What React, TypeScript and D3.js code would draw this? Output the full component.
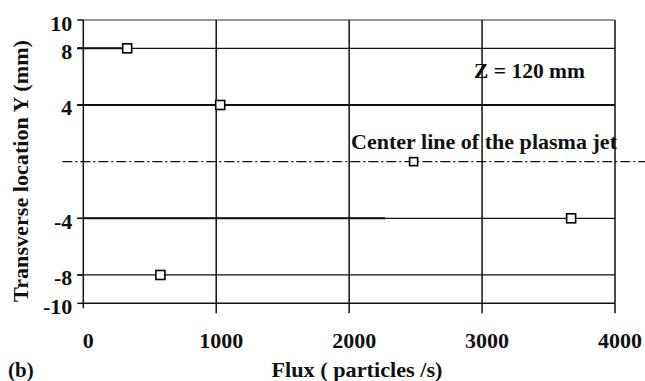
import React from "react";
import * as d3 from "d3";

const fluxValues = [330, 1030, 2485, 3670, 580];
const yValues = [8, 4, 0, -4, -8];
const xTicks = [0, 1000, 2000, 3000, 4000];
const yTicks = [10, 8, 4, -4, -8, -10];
const gridY = [8, 4, -4, -8];
const gridX = [1000, 2000, 3000, 4000];

const W = 645;
const H = 381;
const FONT = "'Liberation Serif', 'Times New Roman', serif";

export default function App() {
  const x = d3.scaleLinear().domain([0, 4000]).range([83.3, 615]);
  const y = d3.scaleLinear().domain([-10, 10]).range([303.3, 20]);
  const x0 = x(0);
  const x1 = x(4000);
  const gridWidth: Record<number, number> = { 8: 1.2, 4: 2.2, "-4": 1.3, "-8": 1.3 } as any;
  return (
    <svg width={W} height={H} style={{ position: "absolute", left: 0, top: 0, background: "#fff" }}>
      <rect x={0} y={0} width={W} height={H} fill="#fff" />
      <line x1={x0} x2={x1} y1={y(10)} y2={y(10)} stroke="#333" strokeWidth={1.2} />
      {gridY.map((v) => (
        <line key={"gy" + v} x1={x0 - 6} x2={x1} y1={y(v)} y2={y(v)} stroke="#111" strokeWidth={gridWidth[v]} />
      ))}
      <line x1={x0} x2={x(2270)} y1={y(-4)} y2={y(-4)} stroke="#111" strokeWidth={2} />
      <line x1={x0 - 6} x2={x(fluxValues[0])} y1={y(yValues[0])} y2={y(yValues[0])} stroke="#111" strokeWidth={2} />
      <line x1={x0} x2={x1} y1={y(-10)} y2={y(-10)} stroke="#111" strokeWidth={1.5} />
      {gridX.map((v) => (
        <line key={"gx" + v} x1={x(v)} x2={x(v)} y1={y(10)} y2={y(-10) + 10} stroke="#111" strokeWidth={1.5} />
      ))}
      <line x1={x0} x2={x0} y1={y(10)} y2={y(-10) + 5} stroke="#111" strokeWidth={1.5} />
      {yTicks.map((v) => (
        <line key={"yt" + v} x1={x0 - 6} x2={x0} y1={y(v)} y2={y(v)} stroke="#111" strokeWidth={1.5} />
      ))}
      <line x1={x0 - 21} x2={W} y1={y(0)} y2={y(0)} stroke="#111" strokeWidth={1.3} strokeDasharray="10,3,2,3" />
      {fluxValues.map((f, i) => {
        const s = yValues[i] === 0 ? 8 : 9;
        return (
          <rect key={"m" + i} x={x(f) - s / 2} y={y(yValues[i]) - s / 2} width={s} height={s} fill="#fff" stroke="#000" strokeWidth={1.6} />
        );
      })}
      {yTicks.map((v) => (
        <text key={"yl" + v} x={x0 - 11} y={y(v) + 3} textAnchor="end" dominantBaseline="central" fontFamily={FONT} fontWeight="bold" fontSize={22} fill="#111">
          {v}
        </text>
      ))}
      {xTicks.map((v) => (
        <text key={"xl" + v} x={x(v) + 5} y={340} textAnchor="middle" dominantBaseline="central" fontFamily={FONT} fontWeight="bold" fontSize={22} fill="#111">
          {v}
        </text>
      ))}
      <text x={474} y={71} dominantBaseline="central" fontFamily={FONT} fontWeight="bold" fontSize={21} fill="#111" textLength={111} lengthAdjust="spacingAndGlyphs">
        Z = 120 mm
      </text>
      <text x={351} y={142} dominantBaseline="central" fontFamily={FONT} fontWeight="bold" fontSize={21} fill="#111" textLength={266} lengthAdjust="spacingAndGlyphs">
        Center line of the plasma jet
      </text>
      <text x={357} y={370} textAnchor="middle" dominantBaseline="central" fontFamily={FONT} fontWeight="bold" fontSize={21} fill="#111" textLength={171} lengthAdjust="spacingAndGlyphs">
        Flux ( particles /s)
      </text>
      <text transform={`translate(21,171) rotate(-90)`} textAnchor="middle" dominantBaseline="central" fontFamily={FONT} fontWeight="bold" fontSize={21} fill="#111" textLength={262} lengthAdjust="spacingAndGlyphs">
        Transverse location Y (mm)
      </text>
      <text x={8} y={370} dominantBaseline="central" fontFamily={FONT} fontWeight="bold" fontSize={21} fill="#111">
        (b)
      </text>
    </svg>
  );
}
